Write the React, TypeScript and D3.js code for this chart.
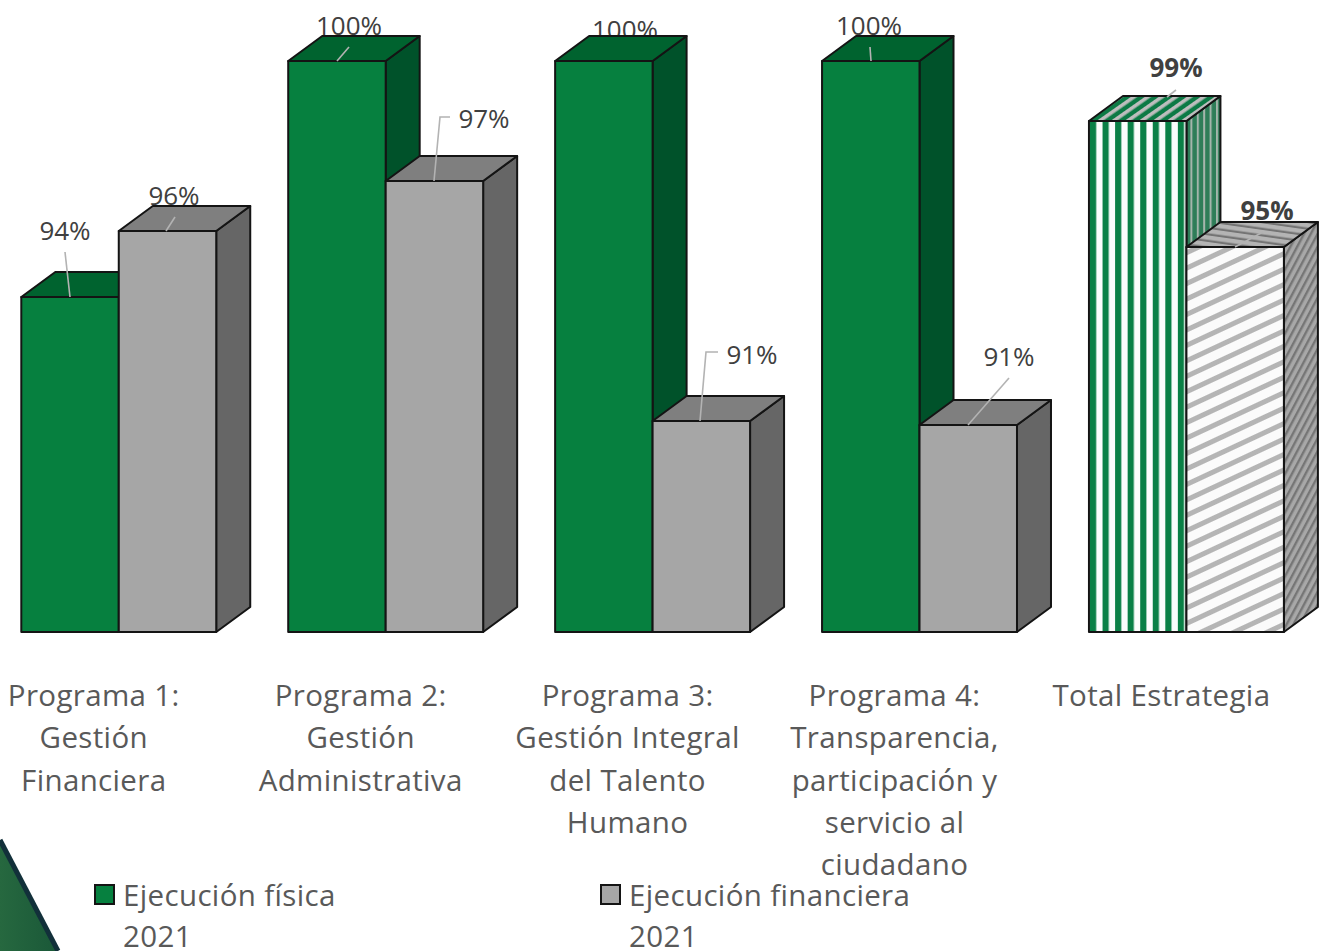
import React from "react";
import * as d3 from "d3";

const categories = [
  ["Programa 1:", "Gestión", "Financiera"],
  ["Programa 2:", "Gestión", "Administrativa"],
  ["Programa 3:", "Gestión Integral", "del Talento", "Humano"],
  ["Programa 4:", "Transparencia,", "participación y", "servicio al", "ciudadano"],
  ["Total Estrategia"],
];
const seriesNames = ["Ejecución física", "Ejecución financiera"];
const legendYear = "2021";
const fisica = [94.1, 100, 100, 100, 98.5];
const financiera = [95.75, 97, 91, 90.9, 95.35];
const fisicaLabels = ["94%", "100%", "100%", "100%", "99%"];
const financieraLabels = ["96%", "97%", "91%", "91%", "95%"];

const fisicaLabelLayout = [
  { x: 65, y: 240, leader: [[65, 252], [70, 297]] },
  { x: 349, y: 35, leader: [[349, 47], [337, 61]] },
  { x: 625, y: 39, leader: [] },
  { x: 869, y: 35, leader: [[870, 47], [871, 61]] },
  { x: 1176, y: 77, leader: [[1176, 90], [1167, 97]] },
];
const financieraLabelLayout = [
  { x: 174, y: 205, leader: [[175, 217], [166, 231]] },
  { x: 484, y: 128, leader: [[450, 117], [440, 117], [434, 181]] },
  { x: 752, y: 364, leader: [[718, 352], [706, 352], [700, 421]] },
  { x: 1009, y: 366, leader: [[1009, 378], [968, 425]] },
  { x: 1267, y: 220, leader: [[1263, 232], [1235, 247]] },
];

const W = 1319;
const H = 951;
const DX = 34;
const DY = -25;
const FONT = "'Open Sans', sans-serif";
const TEXT = "#595959";

const x0 = d3
  .scaleBand<number>()
  .domain(categories.map((_, i) => i))
  .range([21.3, 1283.9])
  .paddingInner(72 / 267)
  .paddingOuter(0);
const x1 = d3.scaleBand<number>().domain([0, 1]).range([0, x0.bandwidth()]);
const y = d3.scaleLinear().domain([85.725, 100]).range([632, 61]);
const line = d3.line<number[]>();

type Fill = { front: string; top: string; side: string };
const solidGreen: Fill = { front: "#06803f", top: "#00632f", side: "#00522a" };
const solidGray: Fill = { front: "#a6a6a6", top: "#7f7f7f", side: "#666666" };
const hatchGreen: Fill = { front: "url(#gf)", top: "url(#gt)", side: "url(#gs)" };
const hatchGray: Fill = { front: "url(#wf)", top: "url(#wt)", side: "url(#ws)" };

function Bar({ i, s, v, fill }: { i: number; s: number; v: number; fill: Fill }) {
  const l = (x0(i) as number) + (x1(s) as number);
  const r = l + x1.bandwidth();
  const t = y(v);
  const b = y(85.725);
  const common = { stroke: "#141414", strokeWidth: 2, strokeLinejoin: "round" as const };
  return (
    <g>
      <path d={line([[r, t], [r + DX, t + DY], [r + DX, b + DY], [r, b]]) + "Z"} fill={fill.side} {...common} />
      <path d={line([[l, t], [l + DX, t + DY], [r + DX, t + DY], [r, t]]) + "Z"} fill={fill.top} {...common} />
      <rect x={l} y={t} width={r - l} height={b - t} fill={fill.front} {...common} />
    </g>
  );
}

export default function App() {
  const n = categories.length;
  const idx = d3.range(n);
  return (
    <svg
      width={W}
      height={H}
      viewBox={`0 0 ${W} ${H}`}
      style={{ position: "absolute", left: 0, top: 0, background: "#fff" }}
      fontFamily={FONT}
    >
      <defs>
        <pattern id="gf" patternUnits="userSpaceOnUse" width="12.55" height="10" x="1090">
          <rect width="12.55" height="10" fill="#fbfdfc" />
          <rect x="0" width="6.2" height="10" fill="#0a8046" />
        </pattern>
        <pattern id="gt" patternUnits="userSpaceOnUse" width="8" height="8" patternTransform="rotate(55)">
          <rect width="8" height="8" fill="#0c7a45" />
          <rect x="0" width="3.6" height="8" fill="#bdbdbd" />
        </pattern>
        <pattern id="gs" patternUnits="userSpaceOnUse" width="6.4" height="10">
          <rect width="6.4" height="10" fill="#2e7d58" />
          <rect x="0" width="2" height="10" fill="#a5b5ac" />
        </pattern>
        <pattern id="wf" patternUnits="userSpaceOnUse" width="14" height="14" patternTransform="rotate(65)">
          <rect width="14" height="14" fill="#fbfbfb" />
          <rect x="0" width="5" height="14" fill="#b5b5b5" />
        </pattern>
        <pattern id="wt" patternUnits="userSpaceOnUse" width="6.5" height="7" patternTransform="rotate(-82)">
          <rect width="6.5" height="7" fill="#b4b4b4" />
          <rect x="0" width="2.2" height="7" fill="#747474" />
        </pattern>
        <pattern id="ws" patternUnits="userSpaceOnUse" width="6" height="7" patternTransform="rotate(28)">
          <rect width="6" height="7" fill="#a8a8a8" />
          <rect x="0" width="2.4" height="7" fill="#767676" />
        </pattern>
        <linearGradient id="corner" x1="0" y1="0" x2="1" y2="0">
          <stop offset="0" stopColor="#26683f" />
          <stop offset="1" stopColor="#1a5838" />
        </linearGradient>
      </defs>

      <path d="M0,840 L58,951 L0,951 Z" fill="url(#corner)" />
      <path d="M0,840 L58,951" fill="none" stroke="#12303a" strokeWidth={5} />

      {idx.map((i) => (
        <g key={i} fontSize={26} fill="#404040" textAnchor="middle">
          <text x={fisicaLabelLayout[i].x} y={fisicaLabelLayout[i].y} fontWeight={i === 4 ? 700 : 400}>
            {fisicaLabels[i]}
          </text>
          <text x={financieraLabelLayout[i].x} y={financieraLabelLayout[i].y} fontWeight={i === 4 ? 700 : 400}>
            {financieraLabels[i]}
          </text>
        </g>
      ))}

      {idx.map((i) => (
        <g key={i}>
          <Bar i={i} s={0} v={fisica[i]} fill={i === 4 ? hatchGreen : solidGreen} />
          <Bar i={i} s={1} v={financiera[i]} fill={i === 4 ? hatchGray : solidGray} />
        </g>
      ))}

      {idx.map((i) =>
        [fisicaLabelLayout[i], financieraLabelLayout[i]].map((l, j) =>
          l.leader.length ? (
            <path key={`${i}-${j}`} d={line(l.leader) as string} fill="none" stroke="#b3b3b3" strokeWidth={1.6} />
          ) : null
        )
      )}

      {categories.map((lines, i) => (
        <text key={i} textAnchor="middle" fontSize={29.5} letterSpacing={0.35} fill={TEXT}>
          {lines.map((t, k) => (
            <tspan key={k} x={(x0(i) as number) + x0.bandwidth() / 2 - 25} y={705.7 + k * 42.4}>
              {t}
            </tspan>
          ))}
        </text>
      ))}

      {seriesNames.map((name, i) => {
        const lx = i === 0 ? 95 : 601;
        return (
          <g key={name}>
            <rect
              x={lx}
              y={885}
              width={19}
              height={19}
              fill={i === 0 ? solidGreen.front : solidGray.front}
              stroke="#141414"
              strokeWidth={2}
            />
            <text x={lx + 28} y={905.5} fontSize={29.5} letterSpacing={0.35} fill={TEXT}>
              {name}
            </text>
            <text x={lx + 28} y={946.5} fontSize={29.5} letterSpacing={0.35} fill={TEXT}>
              {legendYear}
            </text>
          </g>
        );
      })}
    </svg>
  );
}
